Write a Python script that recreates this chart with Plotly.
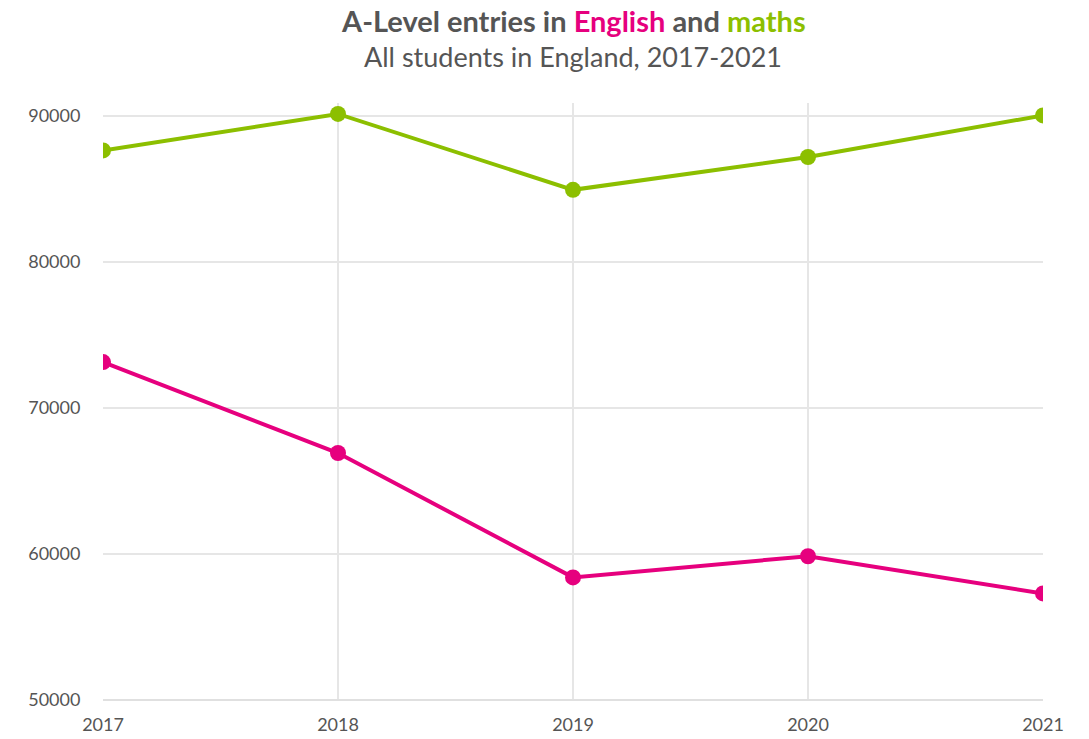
import plotly.graph_objects as go

years = [2017, 2018, 2019, 2020, 2021]
english = [73150, 66920, 58400, 59850, 57300]
maths = [87650, 90150, 84950, 87200, 90050]
y_ticks = [50000, 60000, 70000, 80000, 90000]

PINK = "#e6007e"
GREEN = "#8cbf00"
GREY = "#555555"

fig = go.Figure()
fig.add_trace(go.Scatter(x=years, y=maths, mode="lines+markers", name="maths",
                         line=dict(color=GREEN, width=4), marker=dict(size=16, color=GREEN)))
fig.add_trace(go.Scatter(x=years, y=english, mode="lines+markers", name="English",
                         line=dict(color=PINK, width=4), marker=dict(size=16, color=PINK)))

T, B, L, R = 95, 39, 95, 46
H = 731
PH = H - T - B

fig.update_layout(
    width=1081, height=H,
    margin=dict(l=L, r=R, t=T, b=B),
    paper_bgcolor="white", plot_bgcolor="white",
    showlegend=False,
    font=dict(family="Lato", color=GREY),
    xaxis=dict(range=[2017, 2021], tickvals=years, ticktext=[str(y) for y in years],
               showgrid=True, gridcolor="#e6e6e6", gridwidth=1.5, zeroline=False,
               showline=False, tickfont=dict(size=18, color=GREY), automargin=False,
               ticks="outside", ticklen=8, tickcolor="rgba(0,0,0,0)"),
    yaxis=dict(range=[50000, 90900], tickvals=y_ticks, ticktext=[str(v) for v in y_ticks],
               showgrid=True, gridcolor="#e6e6e6", gridwidth=1.5, zeroline=False,
               showline=False, tickfont=dict(size=18, color=GREY), automargin=False,
               ticks="outside", ticklen=18, tickcolor="rgba(0,0,0,0)"),
)
fig.add_annotation(x=0.5, y=1 + (T - 13) / PH, xref="paper", yref="paper", yanchor="middle",
                   text=f"<b>A-Level entries in <span style='color:{PINK}'>English</span> and <span style='color:{GREEN}'>maths</span></b>",
                   showarrow=False, font=dict(size=29, color=GREY, family="Lato"))
fig.add_annotation(x=0.5, y=1 + (T - 49) / PH, xref="paper", yref="paper", yanchor="middle",
                   text="All students in England, 2017-2021",
                   showarrow=False, font=dict(size=27, color=GREY, family="Lato"))
fig.add_shape(type="line", xref="paper", yref="paper", x0=0, x1=1, y0=0, y1=0,
              line=dict(color="#e0e0e0", width=2))
fig.write_html("out.html")
